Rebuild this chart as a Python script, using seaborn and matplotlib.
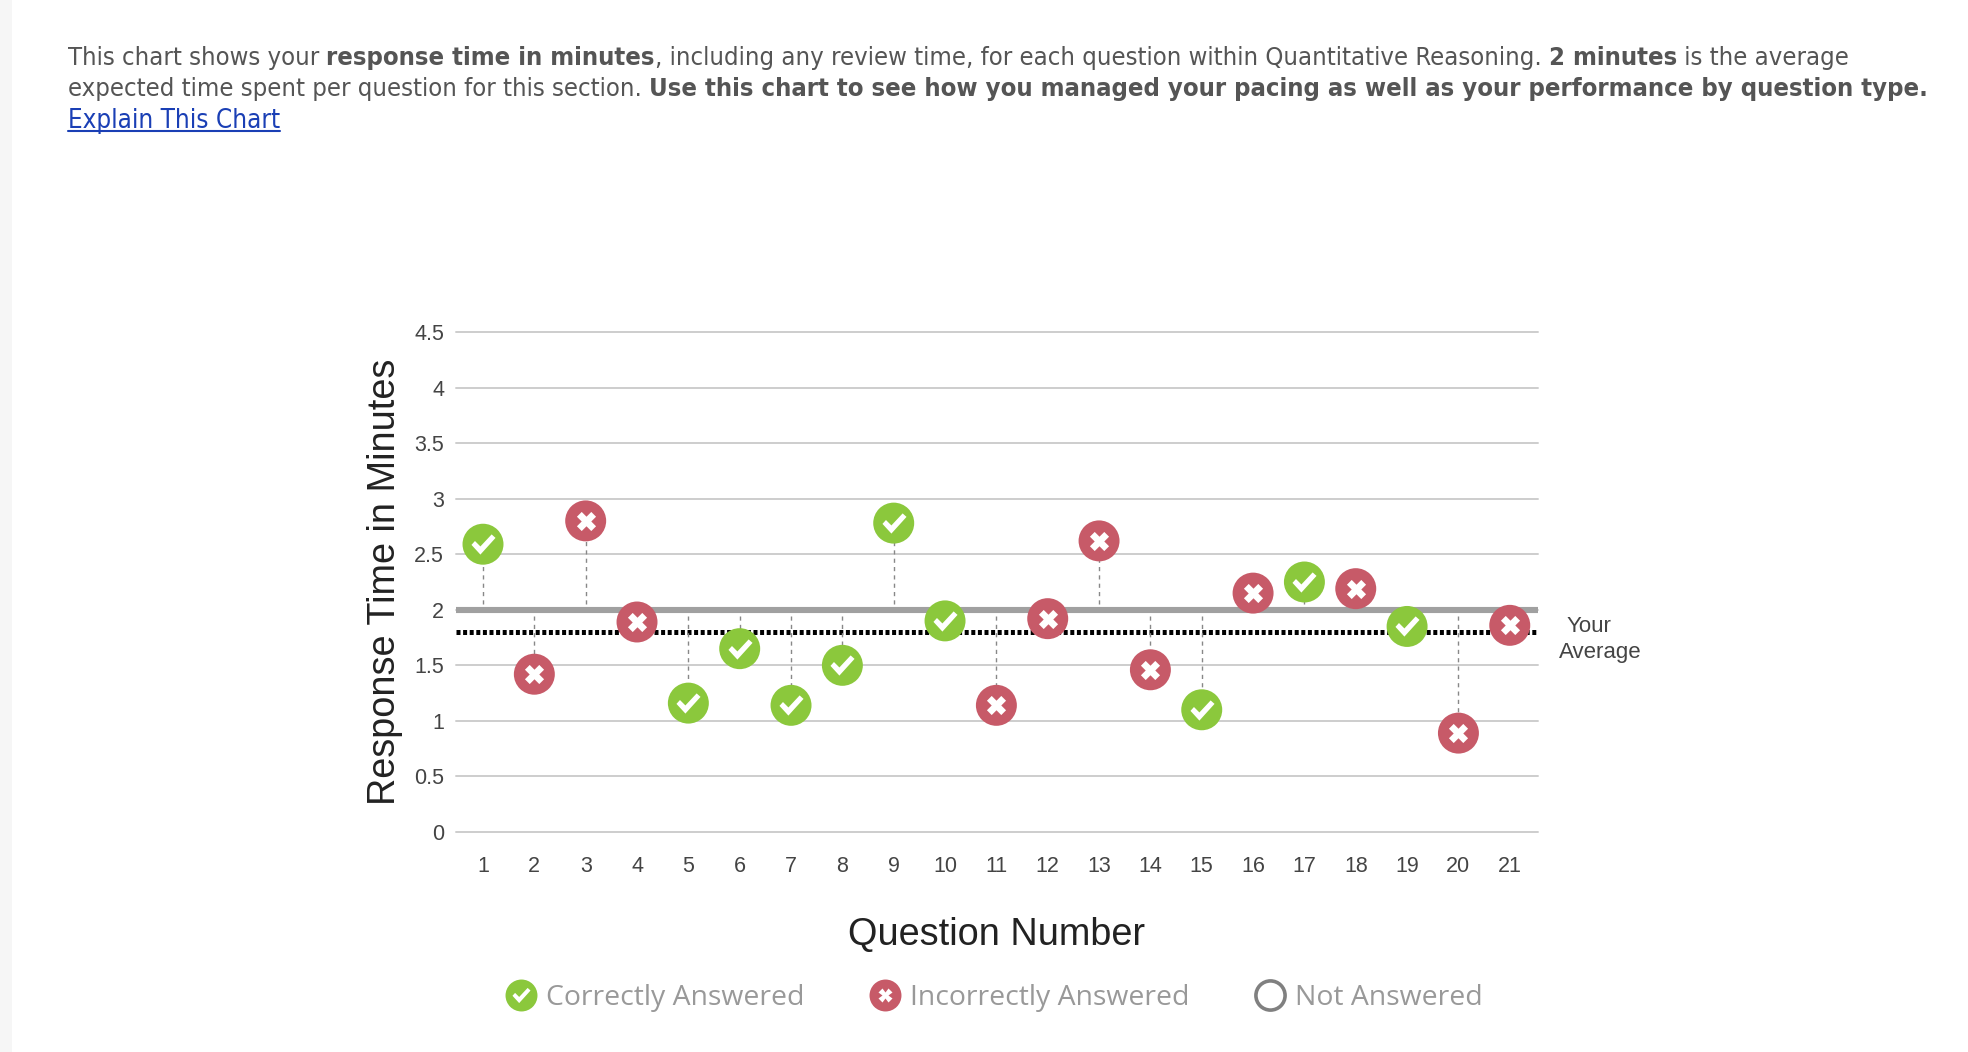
import matplotlib
matplotlib.use("Agg")
import matplotlib.pyplot as plt
import pandas as pd
import seaborn as sns
from matplotlib.legend_handler import HandlerTuple
from matplotlib.lines import Line2D
from matplotlib.patches import Rectangle
from matplotlib.path import Path

questions = list(range(1, 22))
response_times = [2.59, 1.42, 2.80, 1.89, 1.16, 1.65, 1.14, 1.50, 2.78, 1.90, 1.14,
                  1.92, 2.62, 1.46, 1.10, 2.15, 2.25, 2.19, 1.85, 0.89, 1.86]
status = ["c", "i", "i", "i", "c", "c", "c", "c", "c", "c", "i",
          "i", "i", "i", "c", "i", "c", "i", "c", "i", "i"]
y_ticks = [0, 0.5, 1, 1.5, 2, 2.5, 3, 3.5, 4, 4.5]
y_tick_labels = ["0", "0.5", "1", "1.5", "2", "2.5", "3", "3.5", "4", "4.5"]
expected_time = 2
your_average = 1.8
legend_labels = ["Correctly Answered", "Incorrectly Answered", "Not Answered"]

GREEN = "#8bc83c"
RED = "#c75a68"
W, H = 1968, 1052

sns.set_theme(style="white")
plt.rcParams["font.family"] = ["Liberation Sans", "DejaVu Sans"]

df = pd.DataFrame({"question": questions, "time": response_times, "status": status})

fig = plt.figure(figsize=(W / 100, H / 100), dpi=100, facecolor="white")
fig.add_artist(Rectangle((0, 0), 12 / W, 1, transform=fig.transFigure, fc="#f6f6f6", ec="none"))
ax = fig.add_axes([456 / W, 1 - 832 / H, 1082 / W, 500 / H])

# check mark polygon, white on the green circles
check = Path([(-0.62, -0.02), (-0.44, 0.18), (-0.16, -0.1), (0.42, 0.52), (0.62, 0.34),
              (-0.16, -0.52), (-0.62, -0.02)], closed=True)

ax.set_xlim(0.474, 21.55)
ax.set_ylim(0, 4.5)
ax.set_yticks(y_ticks)
ax.set_yticklabels(y_tick_labels)
ax.set_xticks(questions)
ax.tick_params(axis="y", length=0, pad=8.5, labelsize=15.5, labelcolor="#444444")
ax.tick_params(axis="x", length=0, pad=17, labelsize=15.5, labelcolor="#444444")
ax.grid(axis="y", color="#cdcdcd", linewidth=1.4, clip_on=False)
for line in ax.get_ygridlines():
    line.set_clip_on(False)
sns.despine(ax=ax, left=True, bottom=True)

ax.axhline(expected_time, color="#a0a0a0", linewidth=4.4, zorder=2)
ax.axhline(your_average, color="black", linewidth=3.6, linestyle=(0, (0.8, 0.52)), zorder=2)

# thin dotted drop lines from the 2 minute line to every marker
for q, t in zip(questions, response_times):
    start = expected_time + 0.05 if t > expected_time else expected_time - 0.06
    ax.vlines(q, start, t, color="#888888", linewidth=1, linestyle=(0, (3, 3)), zorder=2.5)

sns.scatterplot(data=df, x="question", y="time", hue="status", hue_order=["c", "i"],
                palette={"c": GREEN, "i": RED}, s=870, linewidth=0, legend=False, ax=ax, zorder=4)
sns.scatterplot(data=df[df["status"] == "c"], x="question", y="time", marker=check, color="white",
                s=300, linewidth=0, legend=False, ax=ax, zorder=5)
sns.scatterplot(data=df[df["status"] == "i"], x="question", y="time", marker="X", color="white",
                s=190, linewidth=0, legend=False, ax=ax, zorder=5)

ax.set_xlabel("Question Number", fontsize=27.3, color="#222222", va="center")
ax.xaxis.set_label_coords(0.5, -0.205)
ax.set_ylabel("Response Time in Minutes", fontsize=27.3, color="#222222", va="center")
ax.yaxis.set_label_coords(-0.0655, 0.5)

ax.text(22.54, 1.85, "Your", fontsize=16, color="#444444", ha="center", va="center")
ax.text(22.77, 1.615, "Average", fontsize=16, color="#444444", ha="center", va="center")

handles = [
    (Line2D([], [], ls="", marker="o", ms=23, mfc=GREEN, mec="none"),
     Line2D([], [], ls="", marker=check, ms=13, mfc="white", mec="none")),
    (Line2D([], [], ls="", marker="o", ms=23, mfc=RED, mec="none"),
     Line2D([], [], ls="", marker="X", ms=10, mfc="white", mec="none")),
    Line2D([], [], ls="", marker="o", ms=21, mfc="white", mec="#808080", mew=2.6),
]
ax.legend(handles, legend_labels, ncol=3, loc="center", bbox_to_anchor=(994 / W, 1 - 998 / H),
          bbox_transform=fig.transFigure, frameon=False, labelcolor="#999999",
          prop={"family": "Open Sans", "size": 20.4}, handlelength=1.15, handletextpad=0.3,
          columnspacing=2.27, borderpad=0, handler_map={tuple: HandlerTuple(ndivide=1, pad=0)})


def draw_runs(runs, x, baseline, size=18.35):
    # text made of normal and bold pieces, placed one after the other
    renderer = fig.canvas.get_renderer()
    for text, weight in runs:
        t = fig.text(x / W, 1 - baseline / H, text, fontsize=size, weight=weight, color="#555555",
                     family="DejaVu Sans", stretch="condensed", ha="left", va="baseline")
        x += t.get_window_extent(renderer).width
    return x


draw_runs([("This chart shows your ", "normal"), ("response time in minutes", "bold"),
           (", including any review time, for each question within Quantitative Reasoning. ", "normal"),
           ("2 minutes", "bold"), (" is the average", "normal")], 68, 65)
draw_runs([("expected time spent per question for this section. ", "normal"),
           ("Use this chart to see how you managed your pacing as well as your performance by question type.", "bold")],
          68, 96)
link = fig.text(68 / W, 1 - 128 / H, "Explain This Chart", fontsize=18.6, color="#1a3fb5",
                family="DejaVu Sans", stretch="condensed", ha="left", va="baseline")
link_w = link.get_window_extent(fig.canvas.get_renderer()).width
fig.add_artist(Line2D([68 / W, (68 + link_w) / W], [1 - 131 / H, 1 - 131 / H], color="#1a3fb5", linewidth=1.5,
                      transform=fig.transFigure))

fig.savefig("out.png", dpi=100)
